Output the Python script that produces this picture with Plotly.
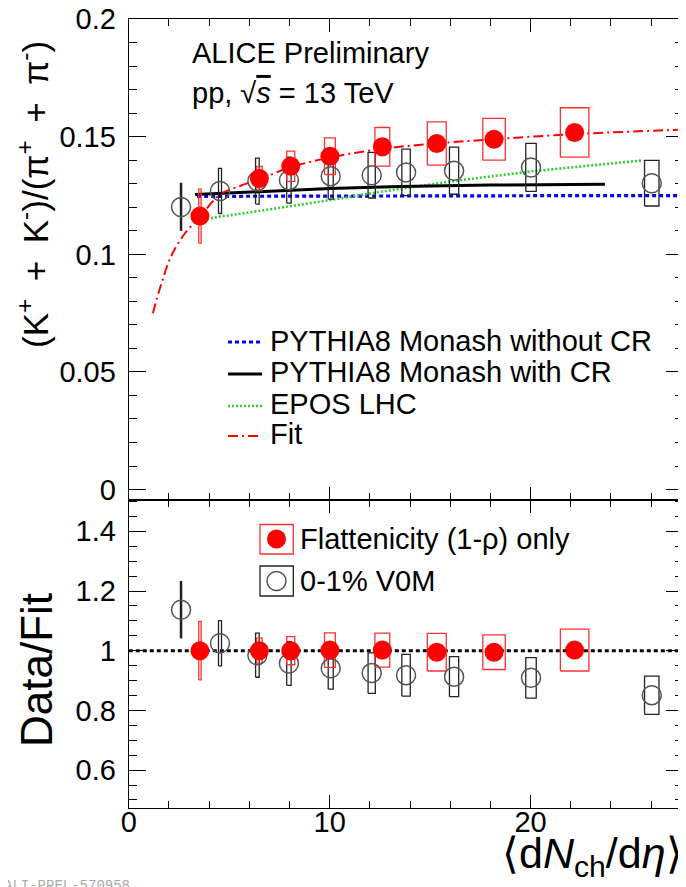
import plotly.graph_objects as go

# ---------------- data ----------------
# Flattenicity (1-rho) only
flat_x = [3.54, 6.50, 8.06, 10.01, 12.62, 15.33, 18.18, 22.19]
flat_xsys = [0.06, 0.14, 0.20, 0.27, 0.37, 0.47, 0.56, 0.71]
flat_y = [0.1163, 0.1323, 0.1375, 0.1418, 0.1458, 0.1472, 0.1490, 0.1519]
flat_ysys = [0.0115, 0.0051, 0.0064, 0.0078, 0.0082, 0.0092, 0.0089, 0.0105]
flat_ratio = [1.000, 1.000, 1.000, 1.002, 1.002, 0.995, 0.995, 1.002]
flat_ratio_sys = [0.098, 0.042, 0.047, 0.058, 0.057, 0.063, 0.058, 0.070]

# 0-1% V0M
v0m_x = [2.60, 4.54, 6.40, 7.97, 10.05, 12.09, 13.80, 16.19, 20.02, 26.03]
v0m_xsys = [0.03, 0.075, 0.09, 0.11, 0.125, 0.18, 0.21, 0.23, 0.26, 0.36]
v0m_y = [0.1202, 0.1270, 0.1312, 0.1316, 0.1333, 0.1337, 0.1349, 0.1356, 0.1370, 0.1303]
v0m_ysys = [0.0100, 0.0096, 0.0098, 0.0098, 0.0098, 0.0097, 0.0099, 0.0100, 0.0102, 0.0097]
v0m_ratio = [1.137, 1.025, 0.985, 0.957, 0.941, 0.925, 0.918, 0.913, 0.909, 0.851]
v0m_ratio_sys = [0.094, 0.076, 0.074, 0.073, 0.070, 0.068, 0.070, 0.067, 0.068, 0.064]

# Models
py_nocr_x = [3.4, 6.5, 10.0, 14.0, 18.0, 22.0, 27.6]
py_nocr_y = [0.1247, 0.1248, 0.1249, 0.1249, 0.1250, 0.1250, 0.1250]
py_cr_x = [3.3, 6.5, 10.0, 13.5, 18.0, 23.7]
py_cr_y = [0.1255, 0.1268, 0.1280, 0.1289, 0.1295, 0.1299]
epos_x = [3.3, 4.5, 6.5, 8.1, 10.0, 12.5, 16.0, 20.1, 25.6]
epos_y = [0.1143, 0.1160, 0.1185, 0.1205, 0.1231, 0.1266, 0.1310, 0.1354, 0.1400]
fit_x = [1.2, 1.6, 2.13, 2.8, 3.54, 4.54, 5.5, 6.5, 8.1, 10.0, 12.6, 15.3, 18.2, 22.2, 27.6]
fit_y = [0.0750, 0.0870, 0.0997, 0.1090, 0.1160, 0.1255, 0.1290, 0.1320, 0.1372, 0.1412,
         0.1449, 0.1472, 0.1490, 0.1512, 0.1531]

# axis tick labels
ytop_ticks = [0, 0.05, 0.1, 0.15, 0.2]
ytop_labels = ["0", "0.05", "0.1", "0.15", "0.2"]
ybot_ticks = [0.6, 0.8, 1.0, 1.2, 1.4]
ybot_labels = ["0.6", "0.8", "1", "1.2", "1.4"]
x_ticks = [0, 10, 20]
x_labels = ["0", "10", "20"]

# ---------------- layout geometry ----------------
W, H = 686, 887
OFF = 8  # page body margin


def px(x):
    return (x - OFF) / W


def py(y):
    return 1 - (y - OFF) / H


FONT = "Liberation Sans, Arial, Helvetica, sans-serif"


def boxes(xs, hw, ys, hs):
    bx, by = [], []
    for x, w, y, h in zip(xs, hw, ys, hs):
        bx += [x - w, x + w, x + w, x - w, x - w, None]
        by += [y - h, y - h, y + h, y + h, y - h, None]
    return bx, by


fig = go.Figure()

# --- top panel model curves
fig.add_trace(go.Scatter(x=py_nocr_x, y=py_nocr_y, mode="lines", xaxis="x", yaxis="y",
                         line=dict(color="#0000ff", width=3.2, dash="4px,3px")))
fig.add_trace(go.Scatter(x=epos_x, y=epos_y, mode="lines", xaxis="x", yaxis="y",
                         line=dict(color="#33cc33", width=2.6, dash="2px,2px")))
fig.add_trace(go.Scatter(x=py_cr_x, y=py_cr_y, mode="lines", xaxis="x", yaxis="y",
                         line=dict(color="black", width=3)))
fig.add_trace(go.Scatter(x=fit_x, y=fit_y, mode="lines", xaxis="x", yaxis="y", line_shape="spline",
                         line=dict(color="#ff0000", width=2, dash="10px,4px,2px,4px")))

# --- top panel boxes
bx, by = boxes(v0m_x, v0m_xsys, v0m_y, v0m_ysys)
fig.add_trace(go.Scatter(x=bx, y=by, mode="lines", xaxis="x", yaxis="y",
                         line=dict(color="#222222", width=1.3)))
bx, by = boxes(flat_x, flat_xsys, flat_y, flat_ysys)
fig.add_trace(go.Scatter(x=bx, y=by, mode="lines", xaxis="x", yaxis="y",
                         line=dict(color="#ff3030", width=1.3)))
# --- top panel markers
fig.add_trace(go.Scatter(x=v0m_x, y=v0m_y, mode="markers", xaxis="x", yaxis="y",
                         marker=dict(symbol="circle-open", size=19, color="#555555",
                                     line=dict(width=1.5, color="#555555"))))
fig.add_trace(go.Scatter(x=flat_x, y=flat_y, mode="markers", xaxis="x", yaxis="y",
                         marker=dict(symbol="circle", size=19, color="#ff0000",
                                     line=dict(width=0))))

# --- bottom panel
fig.add_trace(go.Scatter(x=[0, 27.6], y=[1, 1], mode="lines", xaxis="x2", yaxis="y2",
                         line=dict(color="black", width=3, dash="4px,3px")))
bx, by = boxes(v0m_x, v0m_xsys, v0m_ratio, v0m_ratio_sys)
fig.add_trace(go.Scatter(x=bx, y=by, mode="lines", xaxis="x2", yaxis="y2",
                         line=dict(color="#222222", width=1.3)))
bx, by = boxes(flat_x, flat_xsys, flat_ratio, flat_ratio_sys)
fig.add_trace(go.Scatter(x=bx, y=by, mode="lines", xaxis="x2", yaxis="y2",
                         line=dict(color="#ff3030", width=1.3)))
fig.add_trace(go.Scatter(x=v0m_x, y=v0m_ratio, mode="markers", xaxis="x2", yaxis="y2",
                         marker=dict(symbol="circle-open", size=19, color="#555555",
                                     line=dict(width=1.5, color="#555555"))))
fig.add_trace(go.Scatter(x=flat_x, y=flat_ratio, mode="markers", xaxis="x2", yaxis="y2",
                         marker=dict(symbol="circle", size=19, color="#ff0000",
                                     line=dict(width=0))))

# ---------------- axes ----------------
x_dom = [px(128.8), px(683.3)]
top_dom = [py(500), py(19.1)]
bot_dom = [py(808.4), py(500)]

common = dict(showline=True, linecolor="black", linewidth=1.2, mirror="ticks",
              ticks="inside", tickcolor="black", showgrid=False, zeroline=False,
              automargin=False, ticklabeloverflow="allow",
              tickfont=dict(family=FONT, size=29, color="black"))

fig.update_layout(
    width=W, height=H, margin=dict(l=0, r=0, t=0, b=0, pad=0, autoexpand=False),
    paper_bgcolor="white", plot_bgcolor="white", showlegend=False,
    xaxis=dict(domain=x_dom, range=[0, 27.6], anchor="y", tickvals=x_ticks, ticktext=x_labels,
               showticklabels=False, ticklen=13, tickwidth=1.2,
               minor=dict(dtick=2, tick0=0, ticklen=7, ticks="inside", tickcolor="black"), **common),
    yaxis=dict(domain=top_dom, range=[-0.00446, 0.2001], anchor="x", tickvals=ytop_ticks,
               ticktext=ytop_labels, ticklen=17, tickwidth=1.2, ticklabelstandoff=6,
               minor=dict(dtick=0.01, tick0=0, ticklen=8, ticks="inside", tickcolor="black"), **common),
    xaxis2=dict(domain=x_dom, range=[0, 27.6], anchor="y2", tickvals=x_ticks, ticktext=x_labels,
                ticklen=13, tickwidth=1.2, ticklabelstandoff=-12,
                minor=dict(dtick=2, tick0=0, ticklen=7, ticks="inside", tickcolor="black"), **common),
    yaxis2=dict(domain=bot_dom, range=[0.4717, 1.5049], anchor="x2", tickvals=ybot_ticks,
                ticktext=ybot_labels, ticklen=17, tickwidth=1.2, ticklabelstandoff=6,
                minor=dict(dtick=0.05, tick0=0, ticklen=8, ticks="inside", tickcolor="black"), **common),
)

# ---------------- text ----------------
ES = "\u2002"
ann = []
ann.append(dict(text="ALICE Preliminary", x=px(190), y=py(53), xanchor="left", yanchor="middle",
                font=dict(family=FONT, size=29, color="black")))
ann.append(dict(text="pp, √<span style='text-decoration:overline'><i>s</i></span> = 13 TeV",
                x=px(190), y=py(93), xanchor="left", yanchor="middle",
                font=dict(family=FONT, size=29, color="black")))
# y titles
ann.append(dict(text=f"(K<sup>+</sup>{ES}+{ES}K<sup>-</sup>)/(π<sup>+</sup>{ES}+{ES}π<sup>-</sup>)",
                x=px(33), y=py(195), xanchor="center", yanchor="middle", textangle=-90,
                font=dict(family=FONT, size=35, color="black")))
ann.append(dict(text="Data/Fit", x=px(36), y=py(670), xanchor="center", yanchor="middle",
                textangle=-90, font=dict(family=FONT, size=44, color="black")))
# x title
ann.append(dict(text="⟨d<i>N</i><sub>ch</sub>/d<i>η</i>⟩", x=px(685), y=py(856), xanchor="right",
                yanchor="middle", font=dict(family=FONT, size=43, color="black")))
# top legend
leg_top = [("PYTHIA8 Monash without CR", 341), ("PYTHIA8 Monash with CR", 372),
           ("EPOS LHC", 404), ("Fit", 434)]
for t, yy in leg_top:
    ann.append(dict(text=t, x=px(268), y=py(yy), xanchor="left", yanchor="middle",
                    font=dict(family=FONT, size=29, color="black")))
# bottom legend
ann.append(dict(text="Flattenicity (1-ρ) only", x=px(298), y=py(539), xanchor="left",
                yanchor="middle", font=dict(family=FONT, size=29, color="black")))
ann.append(dict(text="0-1% V0M", x=px(298), y=py(581), xanchor="left",
                yanchor="middle", font=dict(family=FONT, size=29, color="black")))
# watermark id
ann.append(dict(text="ALI-PREL-570958", x=px(2), y=py(876), xanchor="left", yanchor="top",
                font=dict(family="Liberation Mono, monospace", size=14, color="#aaaaaa")))
for a in ann:
    a.update(xref="paper", yref="paper", showarrow=False)
fig.update_layout(annotations=ann)

# legend glyph shapes
shapes = []
shapes.append(dict(type="line", x0=px(228), x1=px(262), y0=py(342), y1=py(342),
                   line=dict(color="#0000ff", width=3.2, dash="4px,3px")))
shapes.append(dict(type="line", x0=px(228), x1=px(262), y0=py(374), y1=py(374),
                   line=dict(color="black", width=3)))
shapes.append(dict(type="line", x0=px(228), x1=px(262), y0=py(406), y1=py(406),
                   line=dict(color="#33cc33", width=2.6, dash="2px,2px")))
shapes.append(dict(type="line", x0=px(228), x1=px(262), y0=py(436), y1=py(436),
                   line=dict(color="#ff0000", width=2, dash="10px,4px,2px,4px")))
# bottom legend boxes + circles
shapes.append(dict(type="rect", x0=px(260), x1=px(293.3), y0=py(524.5), y1=py(554),
                   line=dict(color="#ff3030", width=1.3)))
shapes.append(dict(type="circle", x0=px(267), x1=px(286), y0=py(548.5), y1=py(529.5),
                   fillcolor="#ff0000", line=dict(width=0)))
shapes.append(dict(type="rect", x0=px(260), x1=px(293.3), y0=py(566), y1=py(596),
                   line=dict(color="#222222", width=1.3)))
shapes.append(dict(type="circle", x0=px(267), x1=px(286), y0=py(590.5), y1=py(571.5),
                   line=dict(color="#555555", width=1.5)))
for s in shapes:
    s.update(xref="paper", yref="paper")
fig.update_layout(shapes=shapes)

fig.write_html("out.html")
